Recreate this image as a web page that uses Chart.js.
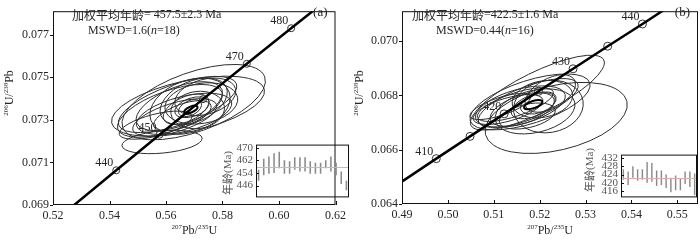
<!DOCTYPE html>
<html>
<head>
<meta charset="utf-8">
<script src="https://cdn.jsdelivr.net/npm/chart.js@4.4.0/dist/chart.umd.min.js"></script>
<style>
  body { margin: 0; background: #fff; width: 700px; height: 240px; overflow: hidden; position: relative; }
  canvas { position: absolute; }
</style>
</head>
<body>
<canvas id="mainA" width="350" height="240" style="left:0;top:0"></canvas>
<canvas id="mainB" width="350" height="240" style="left:350px;top:0"></canvas>
<canvas id="insetA" width="135" height="72" style="left:215px;top:135px"></canvas>
<canvas id="insetB" width="125" height="62" style="left:575px;top:145px"></canvas>
<script>
// ---------- panel (a) ----------
const xTicksA = [0.52, 0.54, 0.56, 0.58, 0.60, 0.62];
const yTicksA = [0.069, 0.071, 0.073, 0.075, 0.077];
// concordia points (age in Ma)
const curveAgesA = [430, 440, 450, 460, 470, 480, 490];
const curveXA = [0.5273, 0.5424, 0.5577, 0.5731, 0.5886, 0.6043, 0.6202];
const curveYA = [0.06898, 0.07063, 0.07230, 0.07397, 0.07563, 0.07730, 0.07897];
const markAgesA = [440, 450, 460, 470, 480];
const labelAgesA = [440, 450, 470, 480];
// analysis ellipses: centre, half width, half height, error correlation
const ellXA = [0.5698, 0.5678, 0.5586, 0.5614, 0.5641, 0.5685, 0.5664, 0.5698, 0.5725, 0.5671, 0.5692, 0.5658, 0.5631, 0.5739, 0.5563, 0.5712, 0.5647, 0.5685];
const ellYA = [0.07383, 0.07364, 0.07196, 0.07342, 0.07372, 0.07364, 0.07328, 0.07386, 0.07377, 0.07350, 0.07359, 0.07319, 0.07311, 0.07408, 0.07275, 0.07346, 0.07364, 0.07355];
const ellSxA = [0.0254, 0.0271, 0.0142, 0.0186, 0.0210, 0.0142, 0.0169, 0.0119, 0.0129, 0.0081, 0.0061, 0.0102, 0.0149, 0.0108, 0.0129, 0.0095, 0.0153, 0.0041];
const ellSyA = [0.00177, 0.00141, 0.00055, 0.00124, 0.00132, 0.00132, 0.00097, 0.00110, 0.00097, 0.00071, 0.00049, 0.00071, 0.00088, 0.00088, 0.00066, 0.00088, 0.00115, 0.00040];
const ellRhoA = [0.56, 0.50, 0.30, 0.60, 0.65, 0.30, 0.50, 0.40, 0.20, 0.50, 0.40, 0.60, 0.60, 0.30, 0.60, 0.10, 0.55, 0.40];
const meanEllA = [0.5688, 0.07348, 0.0024, 0.00018, 0.6];
// inset (a): single-grain ages with error bars
const ageLowA = [449, 452.5, 453.5, 454, 457, 453.5, 453.5, 456, 455, 455, 453.5, 453.5, 453.5, 457, 455, 452.5, 447, 443];
const ageHighA = [456, 463, 464.5, 466.5, 467.5, 462, 461.5, 464, 464, 464, 461.5, 460.5, 460.5, 462, 464.5, 460.5, 455, 449];
const ageTicksA = [446, 454, 462, 470];
const meanAgeA = 457.5;

// ---------- panel (b) ----------
const xTicksB = [0.49, 0.50, 0.51, 0.52, 0.53, 0.54, 0.55];
const yTicksB = [0.064, 0.066, 0.068, 0.070];
const curveAgesB = [400, 405, 410, 415, 420, 425, 430, 435, 440, 445, 450];
const curveXB = [0.48277, 0.49012, 0.49747, 0.50483, 0.51226, 0.51975, 0.52728, 0.53482, 0.5424, 0.5500, 0.5577];
const curveYB = [0.06402, 0.06484, 0.06567, 0.06649, 0.06732, 0.06815, 0.06898, 0.06981, 0.07063, 0.07147, 0.07230];
const markAgesB = [410, 415, 420, 425, 430, 435, 440];
const labelAgesB = [410, 420, 430, 440];
const ellXB = [0.5236, 0.5195, 0.5179, 0.5158, 0.5175, 0.5190, 0.5147, 0.5206, 0.5162, 0.5186, 0.5131, 0.5219, 0.5173, 0.5197, 0.5114, 0.5223];
const ellYB = [0.06717, 0.06810, 0.06776, 0.06759, 0.06772, 0.06741, 0.06766, 0.06786, 0.06748, 0.06762, 0.06748, 0.06759, 0.06724, 0.06772, 0.06759, 0.06807];
const ellSxB = [0.0155, 0.0146, 0.0131, 0.0098, 0.0109, 0.0087, 0.0083, 0.0066, 0.0070, 0.0048, 0.0076, 0.0076, 0.0061, 0.0039, 0.0066, 0.0055];
const ellSyB = [0.00131, 0.00138, 0.00103, 0.00076, 0.00090, 0.00083, 0.00062, 0.00069, 0.00062, 0.00048, 0.00055, 0.00097, 0.00048, 0.00041, 0.00048, 0.00069];
const ellRhoB = [0.37, 0.80, 0.60, 0.50, 0.70, 0.30, 0.70, 0.20, 0.50, 0.50, 0.60, 0.10, 0.40, 0.40, 0.70, 0.50];
const meanEllB = [0.5186, 0.06766, 0.0020, 0.00017, 0.6];
const ageLowB = [421.5, 419, 422.5, 421, 421.5, 420, 420.5, 418.5, 419, 417.5, 415.5, 416.5, 416.5, 419.5, 418, 414];
const ageHighB = [426.5, 425.5, 428, 426.5, 426.5, 430, 429.5, 426, 426, 424, 422.5, 423.5, 422, 425.5, 425.5, 424.5];
const ageTicksB = [416, 420, 424, 428, 432];
const meanAgeB = 422.5;

const SERIF = '"Liberation Serif", "Times New Roman", serif';
const CJK = '"Noto Sans CJK SC", sans-serif';
const INK = '#262626';

// draw a run of text pieces: {t, sup, it, cjk}
function pieceFont(p, size) {
    const s = p.sup ? Math.round(size * 0.6) : size;
    return (p.it ? 'italic ' : '') + s + 'px ' + (p.cjk ? CJK : SERIF);
}
function richWidth(ctx, parts, size) {
    let w = 0;
    parts.forEach(p => {
        ctx.font = pieceFont(p, size);
        w += ctx.measureText(p.t).width;
    });
    return w;
}
function drawRich(ctx, parts, x, y, size, align) {
    let cx = x;
    if (align === 'center') cx = x - richWidth(ctx, parts, size) / 2;
    ctx.textAlign = 'left';
    ctx.textBaseline = 'middle';
    parts.forEach(p => {
        ctx.font = pieceFont(p, size);
        ctx.fillText(p.t, cx, p.sup ? y - size * 0.35 : y);
        cx += ctx.measureText(p.t).width;
    });
}

function drawEllipse(ctx, xs, ys, cx, cy, sx, sy, rho) {
    const px = xs.getPixelForValue(cx), py = ys.getPixelForValue(cy);
    const a = Math.abs(xs.getPixelForValue(cx + sx) - px);
    const b = Math.abs(ys.getPixelForValue(cy + sy) - py);
    const c = -rho * a * b; // screen y runs downward
    const half = (a * a + b * b) / 2, diff = (a * a - b * b) / 2;
    const r = Math.sqrt(diff * diff + c * c);
    const theta = 0.5 * Math.atan2(2 * c, a * a - b * b);
    ctx.beginPath();
    ctx.ellipse(px, py, Math.sqrt(half + r), Math.sqrt(Math.max(half - r, 0.25)), theta, 0, Math.PI * 2);
    ctx.stroke();
}

const concordiaPlugin = {
    id: 'concordia',
    beforeDatasetsDraw(chart, args, o) {
        const { ctx, chartArea: area, scales: { x, y } } = chart;
        ctx.save();
        ctx.beginPath();
        ctx.rect(area.left, area.top, area.width, area.height);
        ctx.clip();
        // age labels on the concordia
        ctx.fillStyle = INK;
        ctx.font = '12px ' + SERIF;
        ctx.textAlign = 'right';
        ctx.textBaseline = 'bottom';
        o.labels.forEach(age => {
            const i = o.ages.indexOf(age);
            ctx.fillText(String(age), x.getPixelForValue(o.cx[i]) - 3, y.getPixelForValue(o.cy[i]) - 1);
        });
        ctx.strokeStyle = '#2e2e2e';
        ctx.lineWidth = 1;
        o.ex.forEach((v, i) => drawEllipse(ctx, x, y, v, o.ey[i], o.esx[i], o.esy[i], o.erho[i]));
        ctx.strokeStyle = '#000';
        ctx.lineWidth = 2;
        drawEllipse(ctx, x, y, ...o.mean);
        ctx.restore();
    },
    afterDraw(chart, args, o) {
        const { ctx, chartArea: area, scales: { x, y } } = chart;
        ctx.save();
        ctx.strokeStyle = '#111';
        ctx.lineWidth = 1;
        ctx.strokeRect(area.left + 0.5, area.top + 0.5, area.width - 1, area.height - 1);
        ctx.beginPath();
        x.ticks.forEach(t => {
            const px = Math.round(x.getPixelForValue(t.value)) + 0.5;
            ctx.moveTo(px, area.bottom);
            ctx.lineTo(px, area.bottom - 4);
        });
        y.ticks.forEach(t => {
            const py = Math.round(y.getPixelForValue(t.value)) + 0.5;
            ctx.moveTo(area.left - 3, py);
            ctx.lineTo(area.left, py);
        });
        ctx.stroke();

        ctx.fillStyle = INK;
        // axis titles
        drawRich(ctx, [{ t: '207', sup: true }, { t: 'Pb/' }, { t: '235', sup: true }, { t: 'U' }],
            (area.left + area.right) / 2, 231, 12, 'center');
        ctx.save();
        ctx.translate(o.yTitleX, 93);
        ctx.rotate(-Math.PI / 2);
        drawRich(ctx, [{ t: '206', sup: true }, { t: 'U/' }, { t: '238', sup: true }, { t: 'Pb' }], 0, 0, 12, 'center');
        ctx.restore();

        // weighted mean note
        drawRich(ctx, o.note1, o.noteX1, 15, 12, 'left');
        drawRich(ctx, o.note2, o.noteX2, 31, 12, 'left');
        ctx.font = '13px ' + SERIF;
        ctx.textAlign = 'right';
        ctx.textBaseline = 'middle';
        ctx.fillText(o.panel, area.right - 8, 13);
        ctx.restore();
    }
};

function mainChart(id, p) {
    const curve = p.ages.map((a, i) => ({ x: p.cx[i], y: p.cy[i] }));
    const marks = p.marks.map(a => curve[p.ages.indexOf(a)]);
    return new Chart(document.getElementById(id), {
        type: 'scatter',
        data: {
            datasets: [{
                data: curve,
                showLine: true,
                borderColor: '#000',
                borderWidth: 2.5,
                pointRadius: 0,
                clip: 0
            }, {
                data: marks,
                showLine: false,
                pointRadius: p.markR,
                pointBorderWidth: 1,
                pointBorderColor: '#333',
                pointBackgroundColor: 'rgba(0,0,0,0)',
                clip: 0
            }]
        },
        options: {
            responsive: false,
            animation: false,
            layout: { autoPadding: false, padding: p.pad },
            plugins: {
                legend: { display: false },
                tooltip: { enabled: false },
                concordia: {
                    ages: p.ages, cx: p.cx, cy: p.cy, labels: p.labels,
                    ex: p.ex, ey: p.ey, esx: p.esx, esy: p.esy, erho: p.erho, mean: p.mean,
                    note1: p.note1, note2: p.note2, noteX1: p.noteX1, noteX2: p.noteX2,
                    panel: p.panel, yTitleX: p.yTitleX
                }
            },
            scales: {
                x: {
                    type: 'linear',
                    min: p.xr[0], max: p.xr[1],
                    afterBuildTicks: s => { s.ticks = p.xt.map(v => ({ value: v })); },
                    afterFit: s => { s.height = p.xh; },
                    grid: { display: false, drawTicks: false },
                    border: { display: false },
                    ticks: {
                        color: INK, padding: 4, maxRotation: 0, autoSkip: false,
                        font: { family: SERIF, size: 12 },
                        callback: v => v.toFixed(2)
                    }
                },
                y: {
                    type: 'linear',
                    min: p.yr[0], max: p.yr[1],
                    afterBuildTicks: s => { s.ticks = p.yt.map(v => ({ value: v })); },
                    afterFit: s => { s.width = p.yw; },
                    grid: { display: false, drawTicks: false },
                    border: { display: false },
                    ticks: {
                        color: INK, padding: 4, autoSkip: false,
                        font: { family: SERIF, size: 12 },
                        callback: v => v.toFixed(3)
                    }
                }
            }
        },
        plugins: [concordiaPlugin]
    });
}

const insetPlugin = {
    id: 'inset',
    afterDraw(chart, args, o) {
        const { ctx, chartArea: area, scales: { y } } = chart;
        ctx.save();
        const my = Math.round(y.getPixelForValue(o.mean)) + 0.5;
        ctx.strokeStyle = '#d6b3ad';
        ctx.lineWidth = 1;
        ctx.beginPath();
        ctx.moveTo(area.left, my);
        ctx.lineTo(area.right, my);
        ctx.stroke();
        ctx.strokeStyle = '#111';
        ctx.strokeRect(area.left + 0.5, area.top + 0.5, area.width - 1, area.height - 1);
        ctx.beginPath();
        y.ticks.forEach(t => {
            const py = Math.round(y.getPixelForValue(t.value)) + 0.5;
            ctx.moveTo(area.left, py);
            ctx.lineTo(area.left + 3, py);
        });
        ctx.stroke();
        ctx.fillStyle = '#555';
        ctx.translate(o.titleX, o.titleY);
        ctx.rotate(-Math.PI / 2);
        drawRich(ctx, [{ t: '年龄', cjk: true }, { t: '(Ma)' }], 0, 0, 11, 'center');
        ctx.restore();
    }
};

function insetChart(id, p) {
    return new Chart(document.getElementById(id), {
        type: 'bar',
        data: {
            labels: p.lo.map((v, i) => String(i + 1)),
            datasets: [{
                data: p.lo.map((v, i) => [v, p.hi[i]]),
                backgroundColor: '#8a8a8a',
                borderWidth: 0,
                categoryPercentage: 1,
                barPercentage: 0.3
            }]
        },
        options: {
            responsive: false,
            animation: false,
            layout: { autoPadding: false, padding: p.pad },
            plugins: {
                legend: { display: false },
                tooltip: { enabled: false },
                inset: { mean: p.mean, titleX: p.titleX, titleY: p.titleY }
            },
            scales: {
                x: { display: false, offset: true },
                y: {
                    min: p.yr[0], max: p.yr[1],
                    afterBuildTicks: s => { s.ticks = p.yt.map(v => ({ value: v })); },
                    afterFit: s => { s.width = p.yw; },
                    grid: { display: false, drawTicks: false },
                    border: { display: false },
                    ticks: { color: '#555', padding: 3, autoSkip: false, font: { family: SERIF, size: 11 } }
                }
            }
        },
        plugins: [insetPlugin]
    });
}

mainChart('mainA', {
    ages: curveAgesA, cx: curveXA, cy: curveYA, marks: markAgesA, labels: labelAgesA, markR: 3.5,
    ex: ellXA, ey: ellYA, esx: ellSxA, esy: ellSyA, erho: ellRhoA, mean: meanEllA,
    xr: [0.52, 0.62], yr: [0.069, 0.0781], xt: xTicksA, yt: yTicksA,
    pad: { top: 1, right: 1, left: 0, bottom: 0 }, xh: 35, yw: 53,
    note1: [{ t: '加权平均年龄', cjk: true }, { t: '= 457.5±2.3 Ma' }],
    note2: [{ t: 'MSWD=1.6(' }, { t: 'n', it: true }, { t: '=18)' }],
    noteX1: 72, noteX2: 88, panel: '(a)', yTitleX: 10
});
mainChart('mainB', {
    ages: curveAgesB, cx: curveXB, cy: curveYB, marks: markAgesB, labels: labelAgesB, markR: 4,
    ex: ellXB, ey: ellYB, esx: ellSxB, esy: ellSyB, erho: ellRhoB, mean: meanEllB,
    xr: [0.49, 0.5545], yr: [0.064, 0.0711], xt: xTicksB, yt: yTicksB,
    pad: { top: 2, right: 2, left: 0, bottom: 0 }, xh: 36, yw: 52,
    note1: [{ t: '加权平均年龄', cjk: true }, { t: '=422.5±1.6 Ma' }],
    note2: [{ t: 'MSWD=0.44(' }, { t: 'n', it: true }, { t: '=16)' }],
    noteX1: 62, noteX2: 86, panel: '(b)', yTitleX: 10
});
insetChart('insetA', {
    lo: ageLowA, hi: ageHighA, mean: meanAgeA, yt: ageTicksA, yr: [438.5, 472],
    pad: { top: 6, right: 1, bottom: 2, left: 0 }, yw: 41, titleX: 13, titleY: 38
});
insetChart('insetB', {
    lo: ageLowB, hi: ageHighB, mean: meanAgeB, yt: ageTicksB, yr: [413, 433.6],
    pad: { top: 8, right: 3, bottom: 3, left: 0 }, yw: 46, titleX: 15, titleY: 25
});
</script>
</body>
</html>
